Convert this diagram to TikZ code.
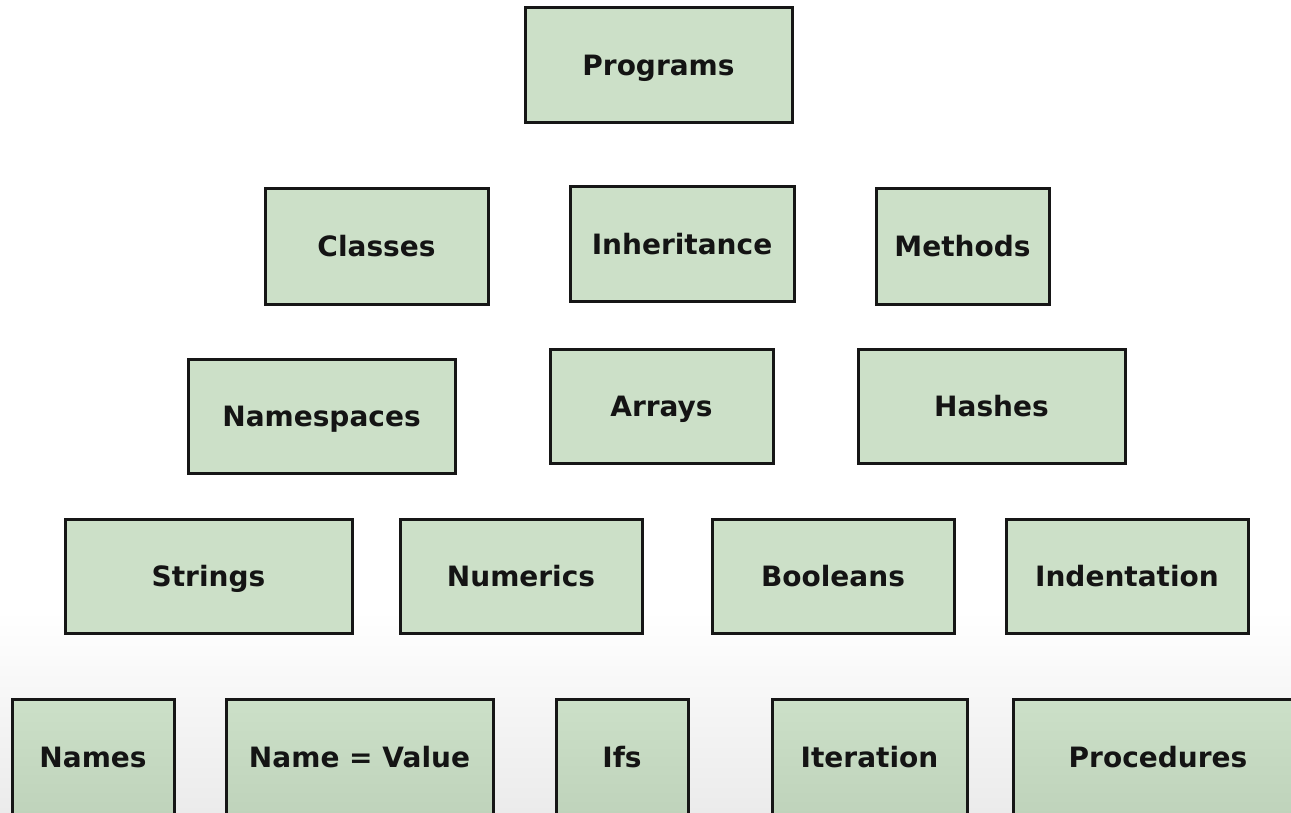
\documentclass[tikz,border=0pt]{standalone}
\usepackage{fontspec}
\setmainfont{DejaVu Sans}
\definecolor{boxfill}{HTML}{CCE0C8}
\definecolor{boxfilllow}{HTML}{BFD3BB}
\definecolor{boxline}{HTML}{161616}
\definecolor{floor}{HTML}{EBEBEB}
\tikzset{
  topic/.style={draw=boxline, line width=3pt, fill=boxfill, inner sep=0pt,
    font=\fontsize{28}{30}\selectfont\bfseries, text=black!92,
    text height=20.4pt, text depth=0pt},
  lowtopic/.style={topic, fill=none, top color=boxfill, bottom color=boxfilllow},
}
% place a box by its corners (pixel units, y downwards)
\newcommand{\topicbox}[7]{%
  \node[#1, minimum width=#5-#3, minimum height=#6-#4] (#2)
    at ({(#3+#5)/2},{(#4+#6)/2}) {#7};}
\begin{document}
\begin{tikzpicture}[x=1pt,y=-1pt]
\useasboundingbox (0,0) rectangle (1291,813);
\clip (0,0) rectangle (1291,813);
% page background, fading to grey at the bottom
\fill[white] (0,0) rectangle (1291,813);
\shade[top color=white, bottom color=floor] (0,610) rectangle (1291,813);

\topicbox{topic}{programs}{525}{8}{792}{123}{Programs}

\topicbox{topic}{classes}{265}{189}{488}{304}{Classes}
\topicbox{topic}{inherit}{570}{187}{794}{301}{Inheritance}
\topicbox{topic}{methods}{876}{189}{1049}{304}{Methods}

\topicbox{topic}{namespaces}{188}{359}{455}{473}{Namespaces}
\topicbox{topic}{arrays}{550}{349}{773}{463}{Arrays}
\topicbox{topic}{hashes}{858}{349}{1125}{463}{Hashes}

\topicbox{topic}{strings}{65}{519}{352}{633}{Strings}
\topicbox{topic}{numerics}{400}{519}{642}{633}{Numerics}
\topicbox{topic}{booleans}{712}{519}{954}{633}{Booleans}
\topicbox{topic}{indent}{1006}{519}{1248}{633}{Indentation}

\topicbox{lowtopic}{names}{12}{699}{174}{815}{Names}
\topicbox{lowtopic}{namevalue}{226}{699}{493}{815}{Name = Value}
\topicbox{lowtopic}{ifs}{556}{699}{688}{815}{Ifs}
\topicbox{lowtopic}{iteration}{772}{699}{967}{815}{Iteration}
\topicbox{lowtopic}{procedures}{1013}{699}{1303}{815}{Procedures}
\end{tikzpicture}
\end{document}
